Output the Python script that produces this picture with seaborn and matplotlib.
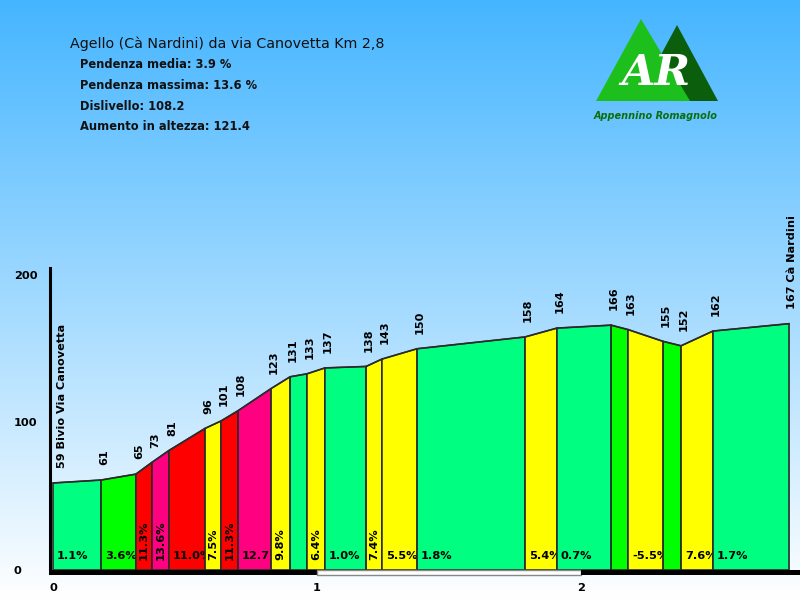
import numpy as np
import pandas as pd
import matplotlib
matplotlib.use("Agg")
import matplotlib.pyplot as plt
import seaborn as sns
from matplotlib.patches import Polygon, Rectangle

sns.set_theme(style="white")
plt.rcParams['font.family'] = ['DejaVu Sans']
plt.rcParams['text.color'] = 'black'
plt.rcParams['xtick.color'] = 'black'
plt.rcParams['ytick.color'] = 'black'

# ---------------- data ----------------
title = "Agello (Cà Nardini) da via Canovetta Km 2,8"
stats = ["Pendenza media: 3.9 %", "Pendenza massima: 13.6 %",
         "Dislivello: 108.2", "Aumento in altezza: 121.4"]

km = [0.0, 0.182, 0.314, 0.375, 0.439, 0.576, 0.636, 0.701, 0.826, 0.898,
      0.962, 1.030, 1.186, 1.246, 1.379, 1.788, 1.909, 2.114, 2.178, 2.311,
      2.379, 2.500, 2.788]
elev = [59, 61, 65, 73, 81, 96, 101, 108, 123, 131, 133, 137, 138, 143,
        150, 158, 164, 166, 163, 155, 152, 162, 167]
point_labels = ["59 Bivio Via Canovetta"] + [str(v) for v in elev[1:-1]] + ["167 Cà Nardini"]

seg_labels = ["1.1%", "3.6%", "11.3%", "13.6%", "11.0%", "7.5%", "11.3%", "12.7",
              "9.8%", "", "6.4%", "1.0%", "7.4%", "5.5%", "1.8%", "5.4%", "0.7%",
              "", "-5.5%", "", "7.6%", "1.7%"]
seg_vertical = [False, False, True, True, False, True, True, False,
                True, False, True, False, True, False, False, False, False,
                False, False, False, False, False]
seg_colors = ["#00FF80", "#00FF00", "#FF0000", "#FF0080", "#FF0000", "#FFFF00",
              "#FF0000", "#FF0080", "#FFFF00", "#00FF80", "#FFFF00", "#00FF80",
              "#FFFF00", "#FFFF00", "#00FF80", "#FFFF00", "#00FF80", "#00FF00",
              "#FFFF00", "#00FF00", "#FFFF00", "#00FF80"]

y_ticks = [0, 100, 200]
x_ticks = [0, 1, 2]

df = pd.DataFrame({"km": km, "elev": elev})

# ---------------- figure ----------------
W, H = 800, 600
fig = plt.figure(figsize=(8, 6), dpi=100)

# background gradient
bg = fig.add_axes([0, 0, 1, 1], zorder=0)
top = np.array([69, 181, 255]) / 255.0
bot = np.array([255, 255, 255]) / 255.0
t = np.linspace(0, 1, 600)[:, None]
grad = top[None, :] * (1 - t) + bot[None, :] * t
grad = np.repeat(grad[:, None, :], 2, axis=1)
bg.imshow(grad, aspect='auto', extent=[0, W, H, 0])
bg.set_xlim(0, W)
bg.set_ylim(H, 0)
bg.axis('off')

# main axes: x=0 -> px 53, 264 px per km; y=0 -> px 570, 1.475 px per m
px_km = 264.0
px_m = 1.475
x0px, y0px = 53.0, 570.0
xmin, xmax = -0.0114, 2.824
ymin, ymax = -5.0, 205.0
left = (x0px + xmin * px_km) / W
width = (xmax - xmin) * px_km / W
bottom = (H - (y0px - ymin * px_m)) / H
height = (ymax - ymin) * px_m / H
ax = fig.add_axes([left, bottom, width, height], zorder=1)
ax.patch.set_alpha(0)
ax.set_xlim(xmin, xmax)
ax.set_ylim(ymin, ymax)

# segments
z = 2
for i in range(len(km) - 1):
    xa, xb = km[i], km[i + 1]
    ya, yb = elev[i], elev[i + 1]
    poly = Polygon([(xa, 0), (xa, ya), (xb, yb), (xb, 0)], closed=True,
                   facecolor=seg_colors[i], edgecolor="#2b2b2b", linewidth=1.2,
                   zorder=z)
    ax.add_patch(poly)
    z += 1
    lab = seg_labels[i]
    if lab:
        if seg_vertical[i]:
            txt = ax.text((xa + xb) / 2, 7, lab, rotation=90, ha='center', va='bottom',
                          fontsize=8.2, fontweight='bold', color='black', zorder=z)
        else:
            txt = ax.text(xa + 4 / px_km, 9.5, lab, ha='left', va='center',
                          fontsize=8.2, fontweight='bold', color='black', zorder=z)
        txt.set_clip_path(poly)
    z += 1

# profile line via seaborn
sns.lineplot(data=df, x="km", y="elev", ax=ax, color="#2b2b2b", linewidth=1.0,
             zorder=z + 1, legend=False)

# elevation labels
for i, (xk, e, lab) in enumerate(zip(km, elev, point_labels)):
    dx = 3 / px_km
    if i == 0:
        dx = 9 / px_km
    ax.text(xk + dx, e + 10, lab, rotation=90, ha='center', va='bottom',
            fontsize=8.1, fontweight='bold', color='black', zorder=z + 2)

# scale bar at bottom
bar_h = 3.6
ax.add_patch(Rectangle((-0.015, -bar_h), 1.015, bar_h, facecolor='black',
                       edgecolor='none', clip_on=False, zorder=z + 3))
ax.add_patch(Rectangle((1.0, -bar_h), 1.0, bar_h, facecolor='white',
                       edgecolor='#888888', linewidth=1.0, clip_on=False, zorder=z + 3))
ax.add_patch(Rectangle((2.0, -bar_h), xmax - 2.0 + 0.02, bar_h, facecolor='black',
                       edgecolor='none', clip_on=False, zorder=z + 3))

# axes styling
for s in ['top', 'right', 'bottom']:
    ax.spines[s].set_visible(False)
ax.spines['left'].set_color('black')
ax.spines['left'].set_linewidth(2.2)
ax.spines['left'].set_bounds(-2, 205)
ax.set_xlabel("")
ax.set_ylabel("")
ax.set_yticks(y_ticks)
ax.set_yticklabels([str(v) for v in y_ticks])
ax.tick_params(axis='y', length=0, pad=26, labelsize=8.2, labelcolor='black')
for tl in ax.get_yticklabels():
    tl.set_fontweight('bold')
    tl.set_horizontalalignment('left')
ax.set_xticks(x_ticks)
ax.set_xticklabels([str(v) for v in x_ticks])
ax.tick_params(axis='x', length=0, pad=4, labelsize=8.2, labelcolor='black')
for tl in ax.get_xticklabels():
    tl.set_fontweight('bold')
ax.grid(False)

# title and stats
fig.text(70 / W, 1 - 44 / H, title, fontsize=10.3, ha='left', va='center', color='#111111')
for k, s in enumerate(stats):
    fig.text(80 / W, 1 - (65 + k * 20.5) / H, s, fontsize=8.3, fontweight='bold',
             ha='left', va='center', color='#111111')

# logo
lg = fig.add_axes([0, 0, 1, 1], zorder=5)
lg.set_xlim(0, W)
lg.set_ylim(H, 0)
lg.axis('off')
lg.patch.set_alpha(0)
lg.add_patch(Polygon([(677, 25), (718, 101), (636, 101)], closed=True,
                     facecolor='#0B5E0B', edgecolor='none'))
lg.add_patch(Polygon([(641, 19), (690, 101), (596, 101)], closed=True,
                     facecolor='#1DBF1D', edgecolor='none'))
lg.text(656, 73, "AR", fontsize=31, fontweight='bold', fontstyle='italic',
        color='white', ha='center', va='center', family=['DejaVu Serif'])
lg.text(656, 116, "Appennino Romagnolo", fontsize=7, fontweight='bold',
        fontstyle='italic', color='#0B6E0B', ha='center', va='center')

fig.savefig("out.png", dpi=100)
